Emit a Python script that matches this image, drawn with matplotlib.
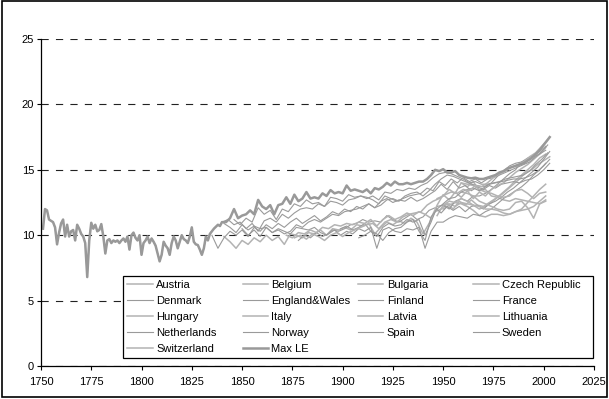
import numpy as np
import matplotlib
matplotlib.use("Agg")
import matplotlib.pyplot as plt
from matplotlib.patches import Rectangle

plt.rcParams['font.family'] = ['Liberation Sans', 'DejaVu Sans']

## Sweden, annual values 1751-1840, then every 3 years from 1843
sweden_early = [10.5, 12.0, 11.9, 11.2, 11.1, 11.0, 10.6, 9.3, 10.2, 10.9,
                11.2, 9.9, 10.8, 9.9, 10.3, 10.4, 9.6, 10.8, 10.5, 10.1,
                9.9, 9.4, 6.8, 9.6, 10.95, 10.5, 10.8, 10.3, 10.4, 10.85,
                9.9, 8.6, 9.6, 9.7, 9.4, 9.6, 9.5, 9.6, 9.4, 9.6,
                9.75, 9.5, 9.9, 8.9, 10.0, 10.2, 9.8, 9.6, 10.0, 8.5,
                9.4, 9.6, 9.9, 9.4, 9.75, 9.5, 9.2, 8.6, 8.0, 8.5,
                9.5, 9.2, 9.0, 8.5, 9.4, 9.9, 9.6, 9.0, 9.5, 10.0,
                9.7, 9.6, 9.4, 9.9, 10.6, 9.5, 9.3, 9.25, 8.9, 8.5,
                9.0, 9.9, 9.6, 10.1, 10.3, 10.5, 10.65, 10.8, 10.7, 11.0]
sweden_late = [11.2, 10.8, 11.0, 10.5, 10.9, 10.3, 11.1, 11.3, 11.0, 11.6,
               11.3, 11.7, 12.0, 12.1, 12.0, 12.4, 12.2, 12.6, 12.5, 12.3,
               12.7, 12.8, 13.0, 12.9, 12.7, 12.4, 13.0, 12.8, 12.6, 12.8,
               13.0, 13.1, 13.2, 13.6, 13.4, 14.1, 13.8, 14.3, 14.0, 14.4,
               14.1, 14.3, 14.0, 14.3, 14.4, 14.6, 14.8, 15.0, 15.2, 15.4,
               15.6, 16.0, 16.4, 16.9]

## Max LE after 1840, every 2 years (last point 2003)
maxle_late = [11.0, 11.3, 12.0, 11.3, 11.5, 11.6, 11.9, 11.6, 12.7, 12.2,
              12.0, 12.3, 11.6, 12.3, 12.4, 12.9, 12.4, 13.1, 12.6, 12.8,
              13.3, 12.8, 12.9, 12.8, 13.2, 13.0, 13.45, 13.2, 13.3, 13.2,
              13.8, 13.4, 13.5, 13.4, 13.3, 13.5, 13.2, 13.6, 13.5, 13.7,
              14.0, 13.8, 14.1, 13.9, 13.9, 14.0, 13.9, 14.0, 14.1, 14.1,
              14.3, 14.6, 15.0, 14.9, 15.05, 14.8, 14.8, 14.9, 14.6, 14.5,
              14.4, 14.35, 14.4, 14.3, 14.3, 14.4, 14.5, 14.6, 14.8, 14.9,
              15.1, 15.2, 15.3, 15.4, 15.5, 15.7, 15.9, 16.2, 16.5, 16.9,
              17.3, 17.5]
maxle_late_years = list(range(1842, 2003, 2)) + [2003]

## other countries: first year, values every 3 years
denmark_start = 1835
denmark = [10.0, 9.0, 9.8, 10.3, 10.0, 10.4, 9.9, 10.6, 10.3, 10.8,
           10.5, 10.9, 10.6, 11.0, 11.3, 10.9, 11.2, 11.5, 11.1, 11.4,
           11.8, 11.6, 12.0, 11.8, 12.2, 12.0, 12.4, 12.1, 12.6, 12.8,
           12.5, 12.7, 12.6, 12.9, 12.6, 12.8, 13.1, 13.4, 13.9, 13.5,
           14.1, 13.6, 13.8, 13.4, 13.7, 13.5, 13.8, 13.6, 13.9, 14.0,
           14.1, 14.0, 14.2, 14.3, 14.6, 15.0, 15.5]
norway_start = 1846
norway = [11.2, 10.8, 11.3, 11.0, 12.1, 11.6, 11.9, 11.2, 12.0, 11.8,
          12.4, 12.2, 12.7, 12.4, 12.5, 12.2, 12.9, 12.8, 12.6, 13.1,
          12.9, 13.0, 12.8, 13.0, 12.7, 13.3, 13.2, 13.5, 13.4, 13.6,
          13.5, 13.8, 14.0, 14.4, 14.7, 14.8, 14.7, 14.5, 14.3, 14.0,
          14.1, 13.9, 13.9, 14.0, 14.1, 14.3, 14.4, 14.5, 14.6, 14.9,
          15.4, 15.8, 16.3]
england_start = 1841
england = [10.9, 10.6, 10.2, 10.8, 10.4, 10.7, 10.5, 10.6, 10.2, 10.5,
           10.3, 10.1, 10.6, 10.5, 10.4, 10.6, 10.2, 10.0, 10.4, 10.3,
           10.5, 10.8, 10.9, 11.2, 11.0, 11.1, 11.0, 11.5, 11.2, 11.0,
           11.3, 11.6, 11.2, 11.4, 11.9, 12.1, 11.7, 12.2, 11.9, 12.2,
           11.8, 12.2, 12.3, 12.0, 12.4, 12.6, 12.9, 13.3, 13.6, 14.0,
           14.4, 14.8, 15.2, 15.8, 16.4]
belgium_start = 1841
belgium = [9.9, 9.5, 9.0, 9.6, 9.3, 9.8, 9.5, 10.0, 9.6, 9.9,
           9.3, 10.1, 10.0, 9.8, 10.2, 10.1, 10.4, 10.0, 10.5, 10.4,
           10.6, 10.4, 10.8, 10.7, 10.9, 10.1, 10.6, 11.0, 10.8, 11.1,
           10.9, 11.3, 11.0, 10.1, 10.9, 11.8, 12.0, 12.4, 12.0, 12.6,
           12.3, 12.7, 12.3, 12.2, 12.5, 12.8, 13.1, 13.5, 13.9, 14.3,
           14.8, 15.0, 15.4, 15.7, 16.0]
netherlands_start = 1850
netherlands = [10.5, 10.0, 10.4, 9.9, 10.6, 10.2, 10.4, 10.1, 10.3, 10.8,
               10.6, 11.0, 11.2, 11.0, 11.3, 11.6, 11.5, 11.8, 11.9, 12.0,
               12.2, 12.4, 12.1, 12.3, 12.7, 12.8, 12.6, 13.0, 13.2, 13.3,
               13.0, 13.4, 13.9, 14.3, 14.6, 14.5, 14.3, 14.1, 13.9, 13.8,
               13.7, 13.9, 14.0, 14.1, 14.2, 14.3, 14.3, 14.4, 14.6, 14.9,
               15.3, 15.8]
france_start = 1899
france = [10.5, 10.7, 10.4, 10.6, 10.9, 10.3, 9.9, 10.6, 10.9, 10.7,
          10.8, 11.2, 11.0, 11.2, 10.0, 11.0, 12.2, 12.3, 12.0, 12.6,
          12.8, 12.6, 13.0, 13.0, 13.2, 13.5, 13.9, 14.3, 14.7, 15.0,
          15.6, 15.9, 16.1, 16.4, 16.8]
finland_start = 1878
finland = [9.6, 10.0, 9.8, 10.2, 9.9, 10.1, 10.4, 10.0, 10.3, 10.1,
           10.5, 10.3, 10.6, 9.0, 10.4, 10.6, 10.3, 10.2, 10.5, 10.4,
           10.6, 9.0, 10.3, 11.0, 11.0, 11.3, 11.5, 11.4, 11.3, 11.6,
           11.5, 11.8, 12.0, 12.4, 12.8, 13.1, 13.4, 13.7, 14.1, 14.6,
           15.0, 15.5]
italy_start = 1872
italy = [10.0, 9.8, 10.2, 10.1, 10.4, 10.2, 10.6, 10.5, 10.8, 10.7,
         10.9, 10.8, 11.0, 10.9, 11.2, 10.7, 11.2, 11.5, 11.2, 11.4,
         11.7, 11.5, 11.8, 11.6, 11.3, 12.3, 13.1, 12.7, 13.3, 12.9,
         13.4, 12.8, 13.3, 13.0, 13.5, 13.8, 14.0, 14.4, 14.8, 15.1,
         15.4, 15.8, 16.2, 16.7]
switzerland_start = 1876
switzerland = [9.8, 10.0, 9.7, 10.1, 9.9, 9.6, 10.0, 10.2, 9.9, 10.2,
               10.4, 10.6, 10.8, 10.9, 10.5, 11.0, 11.2, 11.0, 11.4, 11.6,
               11.7, 11.8, 12.3, 12.6, 12.8, 13.1, 13.3, 13.2, 13.5, 13.4,
               13.8, 13.7, 14.0, 14.4, 14.7, 14.9, 15.2, 15.4, 15.6, 16.0,
               16.3, 16.8, 17.3]
spain_start = 1908
spain = [9.8, 10.0, 10.3, 10.1, 9.6, 10.2, 10.5, 10.6, 11.0, 11.2,
         10.3, 9.6, 11.4, 12.0, 12.4, 12.8, 12.9, 13.3, 13.5, 13.6,
         13.4, 13.7, 14.0, 14.5, 14.9, 15.3, 15.5, 15.6, 15.8, 16.0,
         16.2, 16.5]
austria_start = 1947
austria = [11.5, 12.3, 12.4, 12.2, 12.5, 12.4, 12.3, 12.0, 12.2, 12.5,
           12.9, 13.3, 13.7, 14.2, 14.6, 15.0, 15.4, 15.9, 16.2]
bulgaria_start = 1947
bulgaria = [12.8, 13.0, 13.5, 13.2, 14.0, 13.7, 14.1, 13.4, 13.5, 13.0,
            12.9, 12.7, 12.6, 12.8, 12.7, 12.6, 12.5, 12.4, 12.6]
czech_start = 1950
czech = [12.0, 12.3, 12.5, 12.4, 12.2, 11.9, 11.5, 11.4, 11.6, 11.6,
         11.5, 11.6, 11.8, 12.0, 12.5, 13.0, 13.5, 13.9]
hungary_start = 1950
hungary = [12.3, 12.6, 12.5, 12.8, 12.6, 12.3, 12.2, 12.0, 12.0, 11.9,
           11.7, 11.6, 11.8, 11.9, 12.0, 12.2, 12.6, 13.0]
latvia_start = 1959
latvia = [13.3, 13.2, 13.0, 12.6, 12.4, 12.2, 12.0, 11.9, 12.0, 12.5,
          12.6, 12.1, 11.3, 12.4, 12.7]
lithuania_start = 1959
lithuania = [14.0, 13.9, 13.8, 13.5, 13.3, 13.2, 13.0, 12.9, 13.0, 13.4,
             13.5, 13.2, 12.8, 13.2, 13.3]


def every3(start, vals):
	return start + 3*np.arange(len(vals))

sweden_years = np.concatenate([np.arange(1751, 1841), every3(1843, sweden_late)])
sweden = sweden_early + sweden_late
maxle_years = np.concatenate([np.arange(1751, 1841), maxle_late_years])
maxle = sweden_early + maxle_late

light = dict(color='#b3b3b3', lw=1.1)
dark = dict(color='#9a9a9a', lw=0.8)

series = [('Austria', every3(austria_start, austria), austria, light),
          ('Belgium', every3(belgium_start, belgium), belgium, light),
          ('Bulgaria', every3(bulgaria_start, bulgaria), bulgaria, light),
          ('Czech Republic', every3(czech_start, czech), czech, light),
          ('Denmark', every3(denmark_start, denmark), denmark, dark),
          ('England&Wales', every3(england_start, england), england, dark),
          ('Finland', every3(finland_start, finland), finland, dark),
          ('France', every3(france_start, france), france, dark),
          ('Hungary', every3(hungary_start, hungary), hungary, light),
          ('Italy', every3(italy_start, italy), italy, light),
          ('Latvia', every3(latvia_start, latvia), latvia, light),
          ('Lithuania', every3(lithuania_start, lithuania), lithuania, light),
          ('Netherlands', every3(netherlands_start, netherlands), netherlands, dark),
          ('Norway', every3(norway_start, norway), norway, dark),
          ('Spain', every3(spain_start, spain), spain, dark),
          ('Sweden', sweden_years, sweden, dark),
          ('Switzerland', every3(switzerland_start, switzerland), switzerland, light)]

fig = plt.figure(figsize=(6.09, 3.99), dpi=100)
ax = fig.add_axes([0.0673, 0.0827, 0.908, 0.8195])

handles = []
for name, yrs, vals, st in series:
	ln, = ax.plot(yrs, vals, label=name, **st)
	handles.append(ln)
ln, = ax.plot(maxle_years, maxle, color='#999999', lw=1.8, label='Max LE')
handles.append(ln)

ax.set_xlim(1750, 2025)
ax.set_ylim(0, 25)
ax.set_xticks(np.arange(1750, 2026, 25))
ax.set_yticks(np.arange(0, 26, 5))
ax.tick_params(labelsize=8, length=3, width=0.8, direction='out', color='black')
ax.tick_params(axis='x', pad=5)
ax.tick_params(axis='y', pad=2)
ax.yaxis.grid(True, color='#222222', lw=0.8, linestyle=(0, (6.5, 6.5)))
ax.set_axisbelow(True)
for s in ['top', 'right']:
	ax.spines[s].set_visible(False)
for s in ['left', 'bottom']:
	ax.spines[s].set_linewidth(0.9)

## Excel style legend, filled row by row
order = [0, 4, 8, 12, 16, 1, 5, 9, 13, 17, 2, 6, 10, 14, 3, 7, 11, 15]
leg = ax.legend([handles[i] for i in order], [handles[i].get_label() for i in order],
                ncol=4, loc='lower left', bbox_to_anchor=(0.148, 0.0245),
                borderaxespad=0, fontsize=8, frameon=True, fancybox=False,
                edgecolor='black', framealpha=1, handlelength=2.3,
                handletextpad=0.3, labelspacing=0.53, borderpad=0.4,
                columnspacing=1.0)
leg.get_frame().set_linewidth(0.9)
leg._legend_handle_box.mode = 'equal'
leg._legend_handle_box.set_width(461)

fig.patches.append(Rectangle((0.0025, 0.004), 0.994, 0.993, transform=fig.transFigure,
                             fill=False, edgecolor='black', lw=1.2))

plt.savefig('out.png', dpi=100)
